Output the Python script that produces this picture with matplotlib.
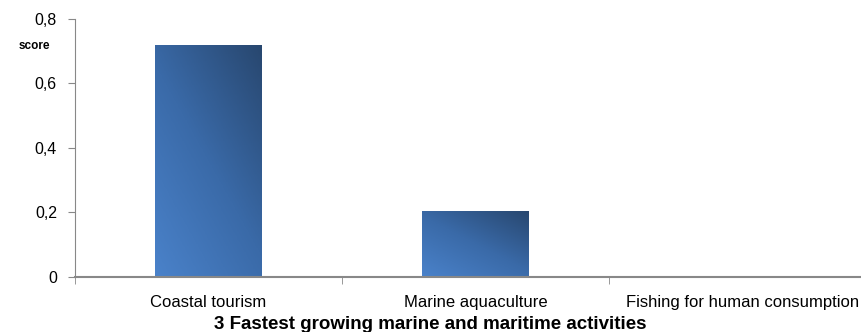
import numpy as np
import matplotlib.pyplot as plt
from matplotlib.colors import LinearSegmentedColormap
from matplotlib.patches import Rectangle

categories = ["Coastal tourism", "Marine aquaculture", "Fishing for human consumption"]
scores = [0.72, 0.205, 0.0]
y_ticks = [0, 0.2, 0.4, 0.6, 0.8]
y_labels = ["0", "0,2", "0,4", "0,6", "0,8"]

plt.rcParams['font.family'] = ['Liberation Sans Narrow', 'Liberation Sans', 'DejaVu Sans']

fig = plt.figure(figsize=(8.61, 3.32), dpi=100)
# the plot runs a little past the right edge of the figure
ax = fig.add_axes([0.0871, 0.166, 0.930, 0.777])

bar_cmap = LinearSegmentedColormap.from_list("bar", ["#4a82ca", "#3a6aa8", "#28476f"])

# diagonal gradient, light at bottom-left, dark at top-right
gx, gy = np.meshgrid(np.linspace(0, 1, 60), np.linspace(0, 1, 120))
grad = 0.45 * gx + 0.55 * gy

width = 0.4
for i, val in enumerate(scores):
    if val <= 0:
        continue
    x0 = i - width / 2
    rect = Rectangle((x0, 0), width, val, facecolor="none", edgecolor="none")
    ax.add_patch(rect)
    im = ax.imshow(grad, cmap=bar_cmap, origin="lower", aspect="auto",
                   extent=(x0, x0 + width, 0, val), zorder=2)
    im.set_clip_path(rect)

ax.set_xlim(-0.5, 2.5)
ax.set_ylim(0, 0.8)

ax.set_yticks(y_ticks)
ax.set_yticklabels(y_labels, fontsize=11.5)
ax.set_xticks(range(len(categories)))
ax.set_xticklabels(categories, fontsize=12)
ax.tick_params(axis="x", length=0, pad=13)
ax.tick_params(axis="y", length=5, color="#888888", pad=8)

# category separators on the x axis
ax.set_xticks([-0.5, 0.5, 1.5, 2.5], minor=True)
ax.tick_params(axis="x", which="minor", length=5, color="#888888")

for side in ["top", "right"]:
    ax.spines[side].set_visible(False)
ax.spines["left"].set_color("#888888")
ax.spines["bottom"].set_color("#888888")
ax.spines["bottom"].set_linewidth(1.5)

fig.text(0.0395, 0.862, "score", fontsize=8.5, fontweight="bold", ha="center", va="center")
fig.text(0.5, 0.022, "3 Fastest growing marine and maritime activities",
         fontsize=13.5, fontweight="bold", ha="center", va="center")

fig.savefig("out.png", dpi=100)
